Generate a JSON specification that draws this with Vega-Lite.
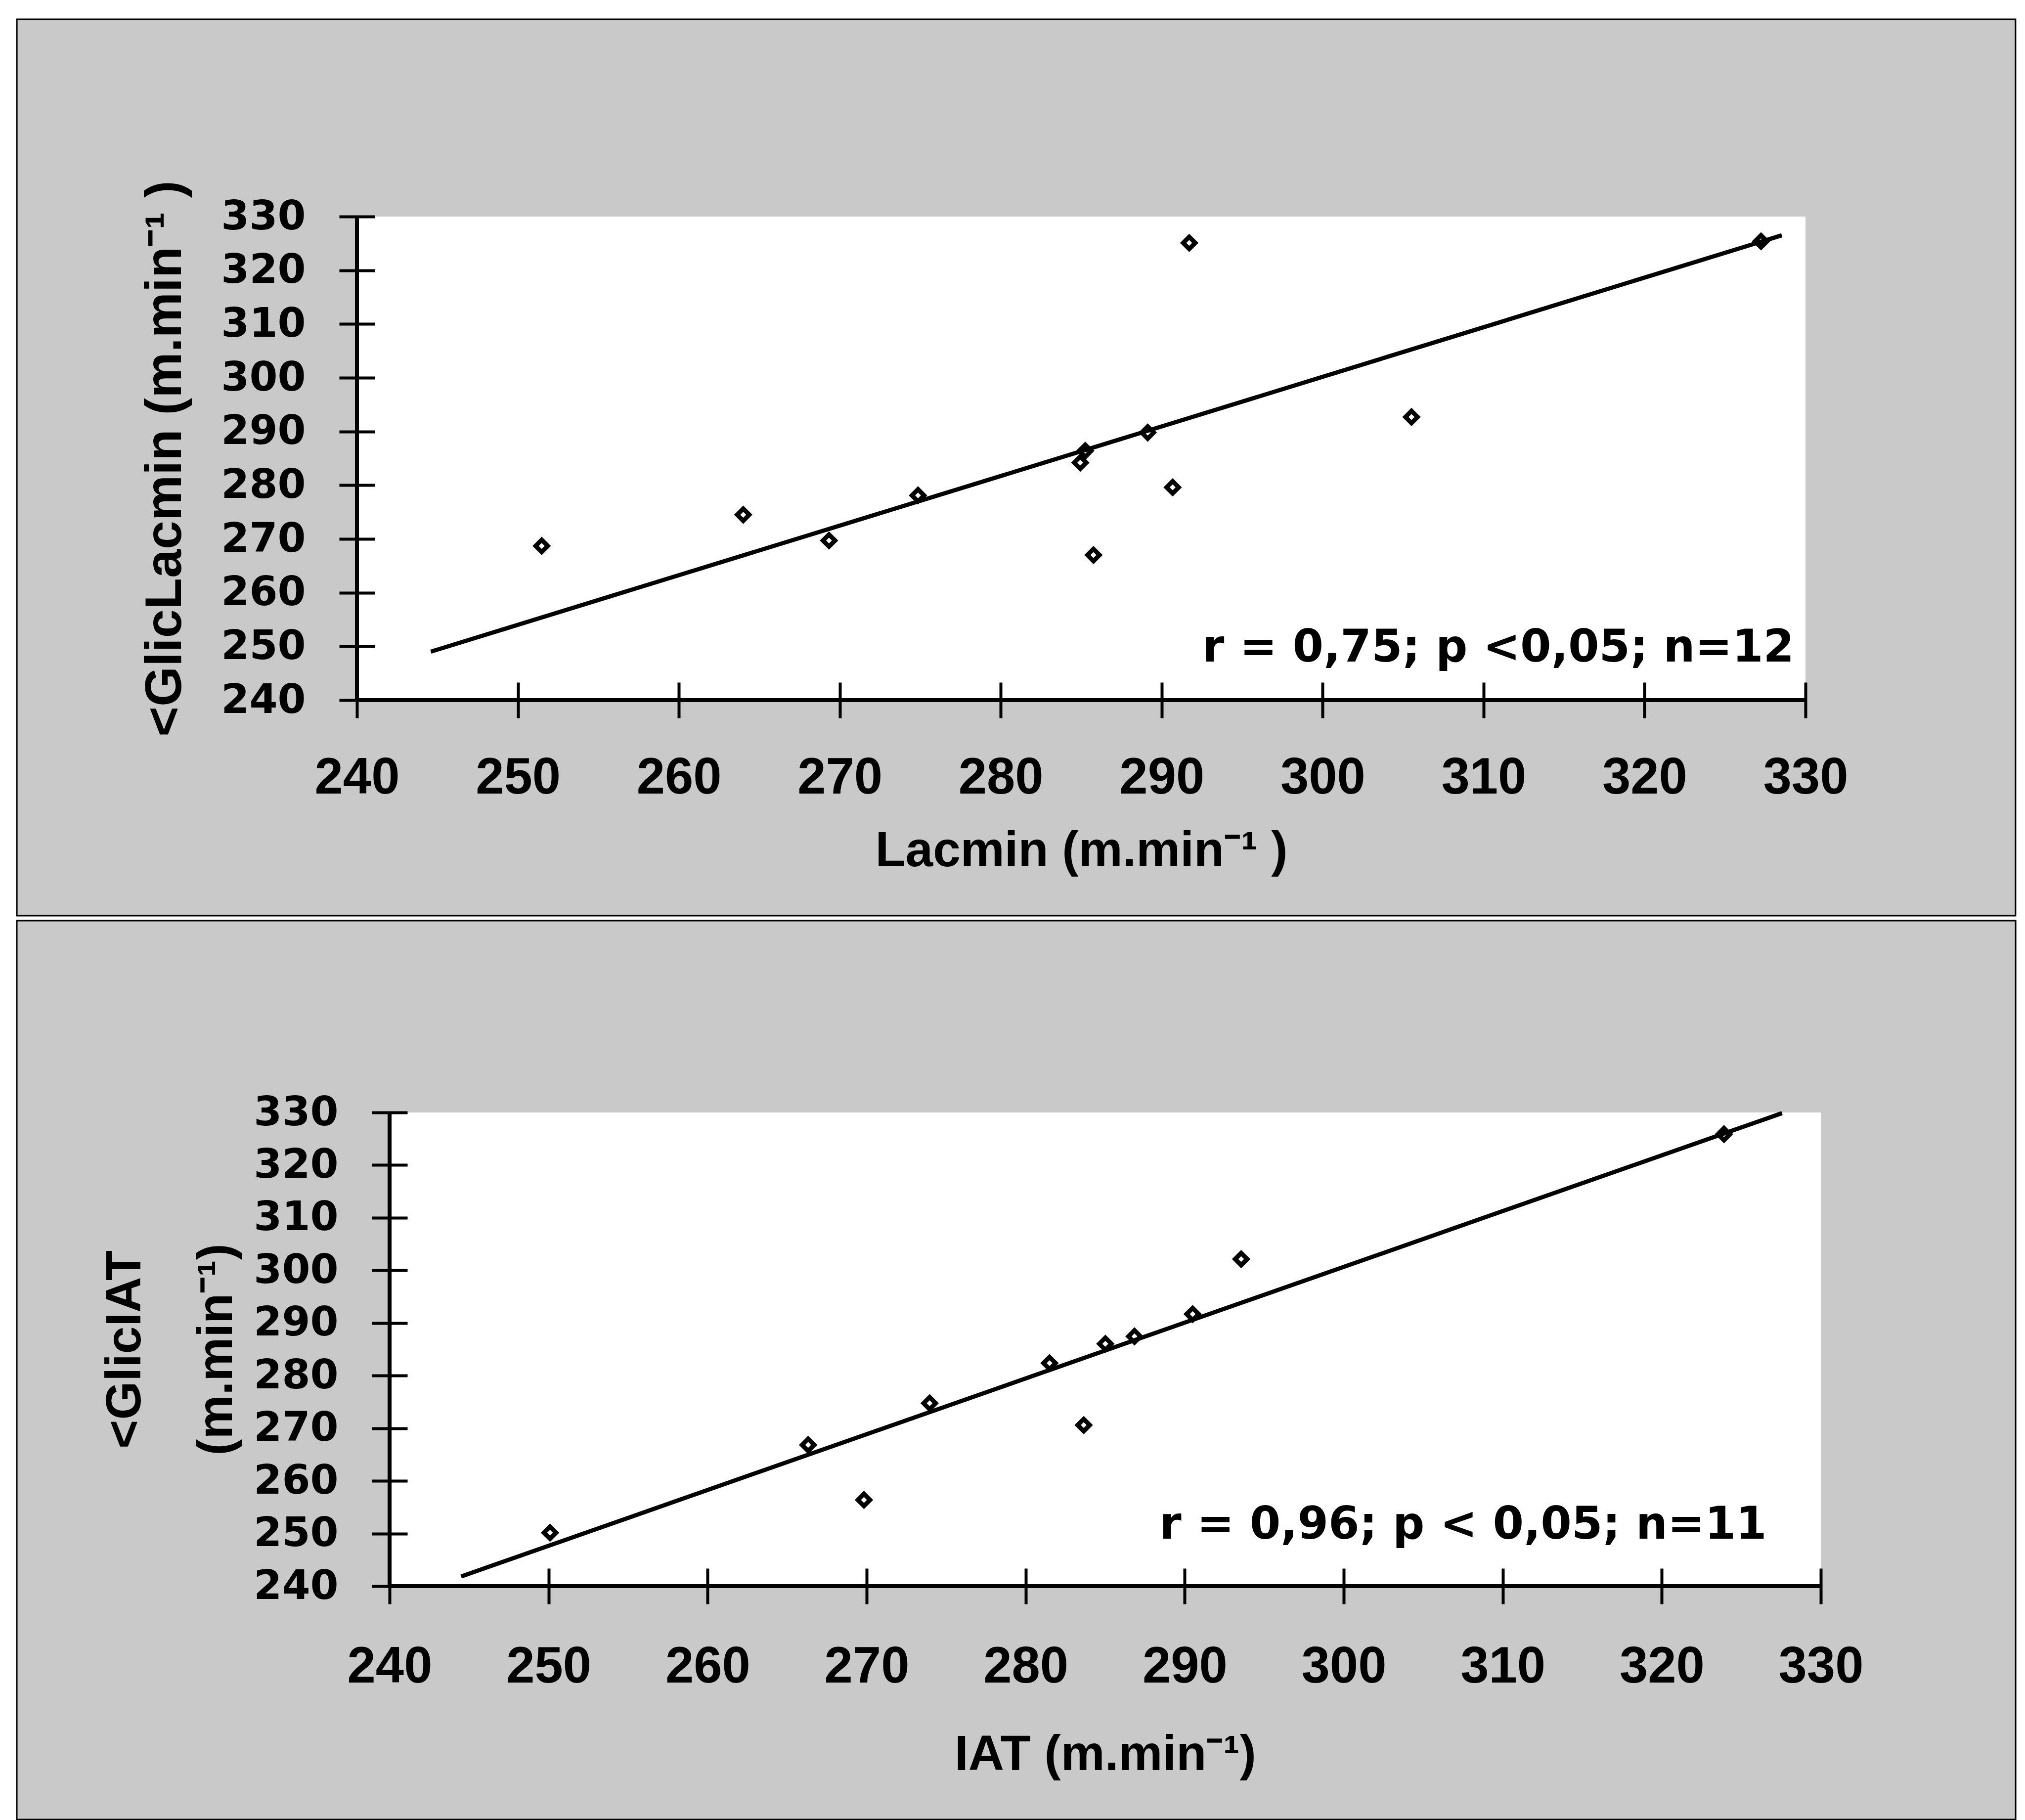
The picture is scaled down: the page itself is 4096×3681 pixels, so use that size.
{
  "$schema": "https://vega.github.io/schema/vega-lite/v6.json",
  "background": "white",
  "padding": {"left": 32, "top": 37, "right": 17, "bottom": 0},
  "autosize": {"type": "pad"},
  "bounds": "full",
  "spacing": 6,
  "config": {
    "view": {"fill": null, "stroke": null},
    "font": "Liberation Sans",
    "axis": {"grid": false, "domain": false, "labelColor": "black", "titleColor": "black", "tickColor": "black", "labelFlush": false, "labelOverlap": false}
  },
  "vconcat": [
    {
      "width": 2930,
      "height": 978,
      "layer": [
        {
          "data": {"values": [{}]},
          "mark": {"type": "rect", "fill": "#c9c9c9", "stroke": "black", "strokeWidth": 3},
          "encoding": {"x": {"datum": 218.87, "type": "quantitative"}, "x2": {"datum": 343.05}, "y": {"datum": 199.88, "type": "quantitative"}, "y2": {"datum": 366.72}}
        },
        {
          "data": {"values": [{}]},
          "mark": {"type": "rect", "color": "white"},
          "encoding": {"x": {"datum": 240, "type": "quantitative"}, "x2": {"datum": 330}, "y": {"datum": 240, "type": "quantitative"}, "y2": {"datum": 330}}
        },
        {
          "data": {"values": [{"lacmin": 244.59, "glic": 249.02}, {"lacmin": 328.53, "glic": 326.51}]},
          "mark": {"type": "line", "color": "black", "strokeWidth": 8.5},
          "encoding": {
            "x": {"field": "lacmin", "type": "quantitative", "scale": {"domain": [240, 330], "nice": false, "zero": false},
              "axis": {"zindex": 1, "title": "Lacmin (m.min⁻¹ )", "values": [240, 250, 260, 270, 280, 290, 300, 310, 320, 330], "offset": -36, "tickSize": 72, "tickWidth": 6,
                "labelFont": "Liberation Sans", "labelFontWeight": "bold", "labelFontSize": 103, "labelPadding": 71,
                "titleFont": "Liberation Sans", "titleFontSize": 100, "titleFontWeight": "bold", "titlePadding": 92}},
            "y": {"field": "glic", "type": "quantitative", "scale": {"domain": [240, 330], "nice": false, "zero": false},
              "axis": {"zindex": 1, "title": "<GlicLacmin (m.min⁻¹ )", "values": [240, 250, 260, 270, 280, 290, 300, 310, 320, 330], "offset": -36, "tickSize": 72, "tickWidth": 6,
                "labelFont": "DejaVu Sans", "labelFontWeight": "bold", "labelFontSize": 82, "labelPadding": 68,
                "titleFont": "Liberation Sans", "titleFontSize": 104, "titleFontWeight": "bold", "titlePadding": 171}}
          }
        },
        {
          "data": {"values": [{}]},
          "mark": {"type": "rule", "color": "black", "strokeWidth": 8},
          "encoding": {"x": {"datum": 240, "type": "quantitative"}, "x2": {"datum": 330}, "y": {"datum": 240, "type": "quantitative"}}
        },
        {
          "data": {"values": [{}]},
          "mark": {"type": "rule", "color": "black", "strokeWidth": 8},
          "encoding": {"x": {"datum": 240, "type": "quantitative"}, "y": {"datum": 240, "type": "quantitative"}, "y2": {"datum": 330}}
        },
        {
          "data": {"values": [
            {"lacmin": 251.48, "glic": 268.7},
            {"lacmin": 264.0, "glic": 274.5},
            {"lacmin": 269.33, "glic": 269.7},
            {"lacmin": 274.86, "glic": 278.1},
            {"lacmin": 284.94, "glic": 284.2},
            {"lacmin": 285.25, "glic": 286.4},
            {"lacmin": 285.76, "glic": 267.0},
            {"lacmin": 289.13, "glic": 289.8},
            {"lacmin": 290.68, "glic": 279.6},
            {"lacmin": 291.71, "glic": 325.1},
            {"lacmin": 305.52, "glic": 292.7},
            {"lacmin": 327.24, "glic": 325.4}
          ]},
          "mark": {"type": "point", "shape": "diamond", "filled": false, "color": "black", "strokeWidth": 9, "size": 600, "opacity": 1},
          "encoding": {
            "x": {"field": "lacmin", "type": "quantitative"},
            "y": {"field": "glic", "type": "quantitative"}
          }
        },
        {
          "data": {"values": [{"lacmin": 329.3, "glic": 247.2, "label": "r = 0,75;  p <0,05;  n=12"}]},
          "mark": {"type": "text", "align": "right", "baseline": "alphabetic", "font": "DejaVu Sans", "fontWeight": "bold", "fontSize": 90, "color": "black"},
          "encoding": {
            "x": {"field": "lacmin", "type": "quantitative"},
            "y": {"field": "glic", "type": "quantitative"},
            "text": {"field": "label"}
          }
        }
      ]
    },
    {
      "width": 2961,
      "height": 958,
      "layer": [
        {
          "data": {"values": [{}]},
          "mark": {"type": "rect", "fill": "#c9c9c9", "stroke": "black", "strokeWidth": 3},
          "encoding": {"x": {"datum": 216.56, "type": "quantitative"}, "x2": {"datum": 342.25}, "y": {"datum": 195.66, "type": "quantitative"}, "y2": {"datum": 366.45}}
        },
        {
          "data": {"values": [{}]},
          "mark": {"type": "rect", "color": "white"},
          "encoding": {"x": {"datum": 240, "type": "quantitative"}, "x2": {"datum": 330}, "y": {"datum": 240, "type": "quantitative"}, "y2": {"datum": 330}}
        },
        {
          "data": {"values": [{"iat": 244.5, "glic": 241.84}, {"iat": 327.56, "glic": 329.87}]},
          "mark": {"type": "line", "color": "black", "strokeWidth": 8.5},
          "encoding": {
            "x": {"field": "iat", "type": "quantitative", "scale": {"domain": [240, 330], "range": [66, 2961], "nice": false, "zero": false},
              "axis": {"zindex": 1, "title": "IAT (m.min⁻¹)", "values": [240, 250, 260, 270, 280, 290, 300, 310, 320, 330], "offset": -36, "tickSize": 72, "tickWidth": 6,
                "labelFont": "Liberation Sans", "labelFontWeight": "bold", "labelFontSize": 103, "labelPadding": 77,
                "titleFont": "Liberation Sans", "titleFontSize": 100, "titleFontWeight": "bold", "titlePadding": 128}},
            "y": {"field": "glic", "type": "quantitative", "scale": {"domain": [240, 330], "nice": false, "zero": false},
              "axis": {"zindex": 1, "title": ["<GlicIAT", "(m.min⁻¹)"], "titleLineHeight": 185, "values": [240, 250, 260, 270, 280, 290, 300, 310, 320, 330], "offset": -102, "tickSize": 72, "tickWidth": 6,
                "labelFont": "DejaVu Sans", "labelFontWeight": "bold", "labelFontSize": 82, "labelPadding": 68,
                "titleFont": "Liberation Sans", "titleFontSize": 100, "titleFontWeight": "bold", "titlePadding": 135}}
          }
        },
        {
          "data": {"values": [{}]},
          "mark": {"type": "rule", "color": "black", "strokeWidth": 8},
          "encoding": {"x": {"datum": 240, "type": "quantitative"}, "x2": {"datum": 330}, "y": {"datum": 240, "type": "quantitative"}}
        },
        {
          "data": {"values": [{}]},
          "mark": {"type": "rule", "color": "black", "strokeWidth": 8},
          "encoding": {"x": {"datum": 240, "type": "quantitative"}, "y": {"datum": 240, "type": "quantitative"}, "y2": {"datum": 330}}
        },
        {
          "data": {"values": [
            {"iat": 250.09, "glic": 250.15},
            {"iat": 266.32, "glic": 266.83},
            {"iat": 269.83, "glic": 256.38},
            {"iat": 273.96, "glic": 274.75},
            {"iat": 281.5, "glic": 282.37},
            {"iat": 283.65, "glic": 270.6},
            {"iat": 285.01, "glic": 286.05},
            {"iat": 286.84, "glic": 287.45},
            {"iat": 290.5, "glic": 291.69},
            {"iat": 293.55, "glic": 302.14},
            {"iat": 323.91, "glic": 325.88}
          ]},
          "mark": {"type": "point", "shape": "diamond", "filled": false, "color": "black", "strokeWidth": 9, "size": 600, "opacity": 1},
          "encoding": {
            "x": {"field": "iat", "type": "quantitative"},
            "y": {"field": "glic", "type": "quantitative"}
          }
        },
        {
          "data": {"values": [{"iat": 326.6, "glic": 249.0, "label": "r = 0,96;  p < 0,05;  n=11"}]},
          "mark": {"type": "text", "align": "right", "baseline": "alphabetic", "font": "DejaVu Sans", "fontWeight": "bold", "fontSize": 90, "color": "black"},
          "encoding": {
            "x": {"field": "iat", "type": "quantitative"},
            "y": {"field": "glic", "type": "quantitative"},
            "text": {"field": "label"}
          }
        }
      ]
    }
  ]
}
